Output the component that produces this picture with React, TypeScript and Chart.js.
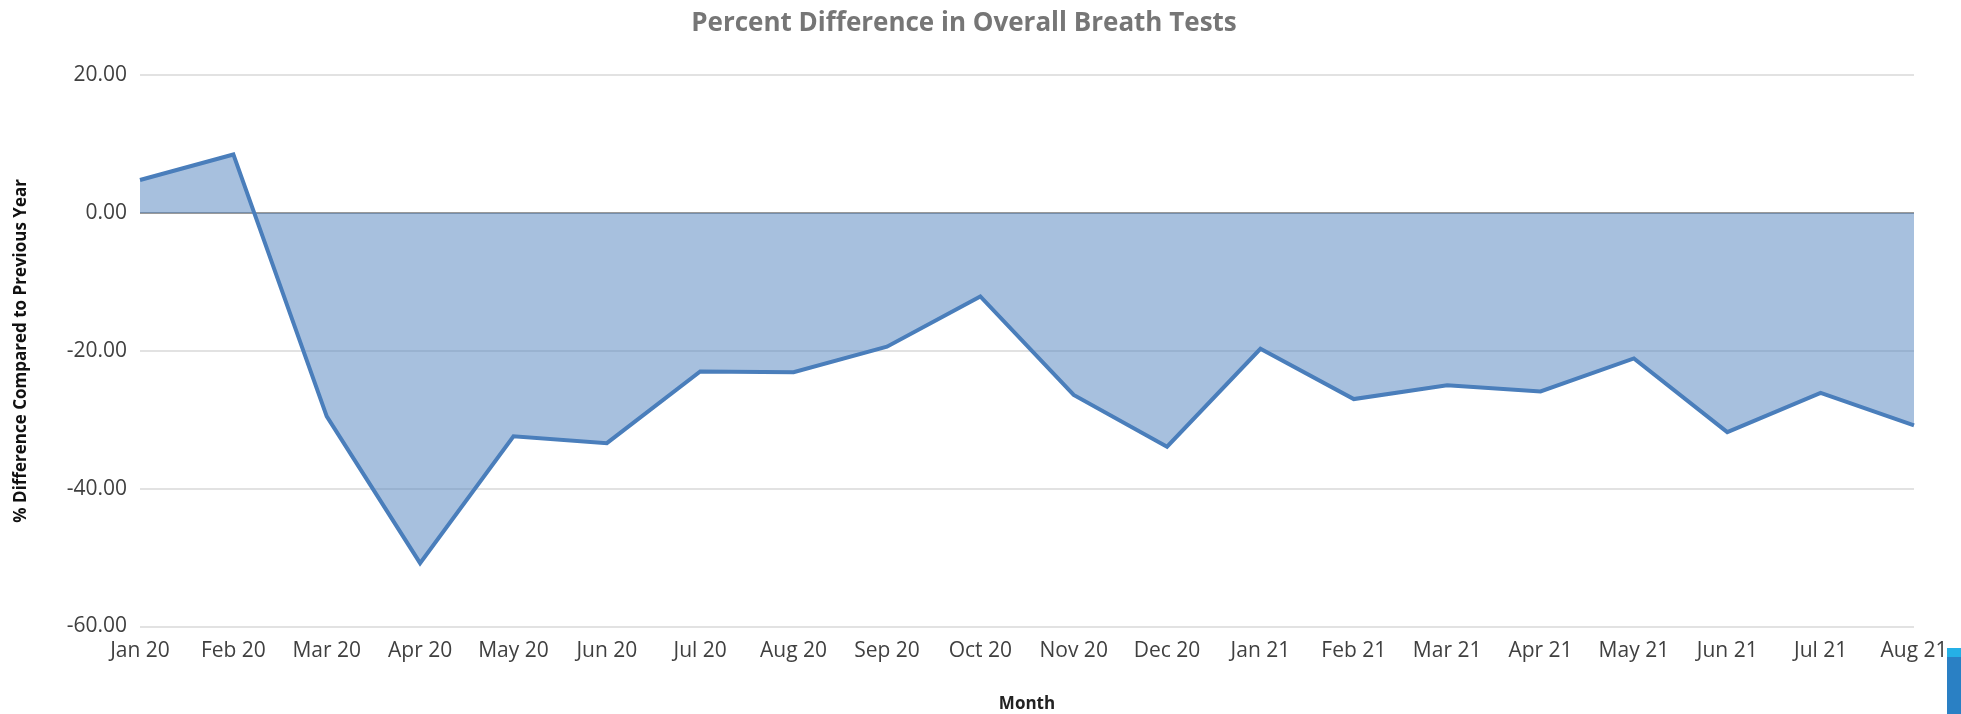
import React, { useEffect, useRef } from "react";
import { Chart, registerables } from "chart.js";

Chart.register(...registerables);

const months = [
  "Jan 20", "Feb 20", "Mar 20", "Apr 20", "May 20", "Jun 20", "Jul 20", "Aug 20", "Sep 20", "Oct 20",
  "Nov 20", "Dec 20", "Jan 21", "Feb 21", "Mar 21", "Apr 21", "May 21", "Jun 21", "Jul 21", "Aug 21",
];

const percentDiff = [
  4.8, 8.5, -29.5, -50.8, -32.4, -33.4, -23.0, -23.1, -19.4, -12.1,
  -26.4, -33.9, -19.7, -27.0, -25.0, -25.9, -21.1, -31.8, -26.1, -30.8,
];

const yMin = -60;
const yMax = 20;
const yStep = 20;

const chartTitle = "Percent Difference in Overall Breath Tests";
const yTitle = "% Difference Compared to Previous Year";
const xTitle = "Month";

const FONT = "'Open Sans', 'Noto Sans', sans-serif";

export default function App() {
  const ref = useRef<HTMLCanvasElement | null>(null);

  useEffect(() => {
    document.documentElement.style.overflow = "hidden";
    if (!ref.current) return;
    const chart = new Chart(ref.current, {
      type: "line",
      data: {
        labels: months,
        datasets: [
          {
            data: percentDiff,
            borderColor: "#4a7ebb",
            backgroundColor: "rgba(79,129,189,0.5)",
            borderWidth: 4,
            fill: "origin",
            pointRadius: 0,
            tension: 0,
          },
        ],
      },
      options: {
        animation: false,
        responsive: true,
        maintainAspectRatio: false,
        layout: { padding: { left: 0, right: 33, top: 0, bottom: 0 } },
        plugins: {
          legend: { display: false },
          tooltip: { enabled: false },
          title: {
            display: true,
            text: chartTitle,
            color: "#767676",
            font: { family: FONT, size: 26, weight: "bold" },
            padding: { top: 0, bottom: 36 },
          },
        },
        scales: {
          x: {
            offset: false,
            grid: { display: false, drawTicks: false },
            border: { display: false },
            ticks: {
              color: "#404040",
              font: { family: FONT, size: 21 },
              padding: 12,
              maxRotation: 0,
              autoSkip: false,
            },
            title: {
              display: true,
              text: xTitle,
              color: "#222222",
              font: { family: FONT, size: 17, weight: "bold" },
              padding: { top: 28, bottom: 0 },
            },
            afterFit: (s: any) => {
              s.height = 87.5;
              s.paddingRight = 39;
            },
          },
          y: {
            min: yMin,
            max: yMax,
            grid: {
              drawTicks: false,
              color: (ctx: any) => (ctx.tick && ctx.tick.value === 0 ? "#9a9a9a" : "#e2e2e2"),
              lineWidth: 2,
            },
            border: { display: false },
            ticks: {
              stepSize: yStep,
              color: "#404040",
              font: { family: FONT, size: 21 },
              padding: 13,
              callback: (v: any) => Number(v).toFixed(2),
            },
            title: {
              display: true,
              text: yTitle,
              color: "#111111",
              font: { family: FONT, size: 17, weight: "bold" },
              padding: { top: 3, bottom: 0 },
            },
            afterFit: (s: any) => {
              s.width = 132;
            },
          },
        },
      },
    });
    return () => chart.destroy();
  }, []);

  return (
    <div>
      <div style={{ position: "relative", width: "100%", height: 706 }}>
        <canvas ref={ref} />
      </div>
      <div
        style={{
          position: "fixed",
          right: 0,
          bottom: 0,
          width: 14,
          height: 66,
          background: "#2a80c4",
          borderTop: "9px solid #25b0e6",
          boxSizing: "border-box",
        }}
      />
    </div>
  );
}
